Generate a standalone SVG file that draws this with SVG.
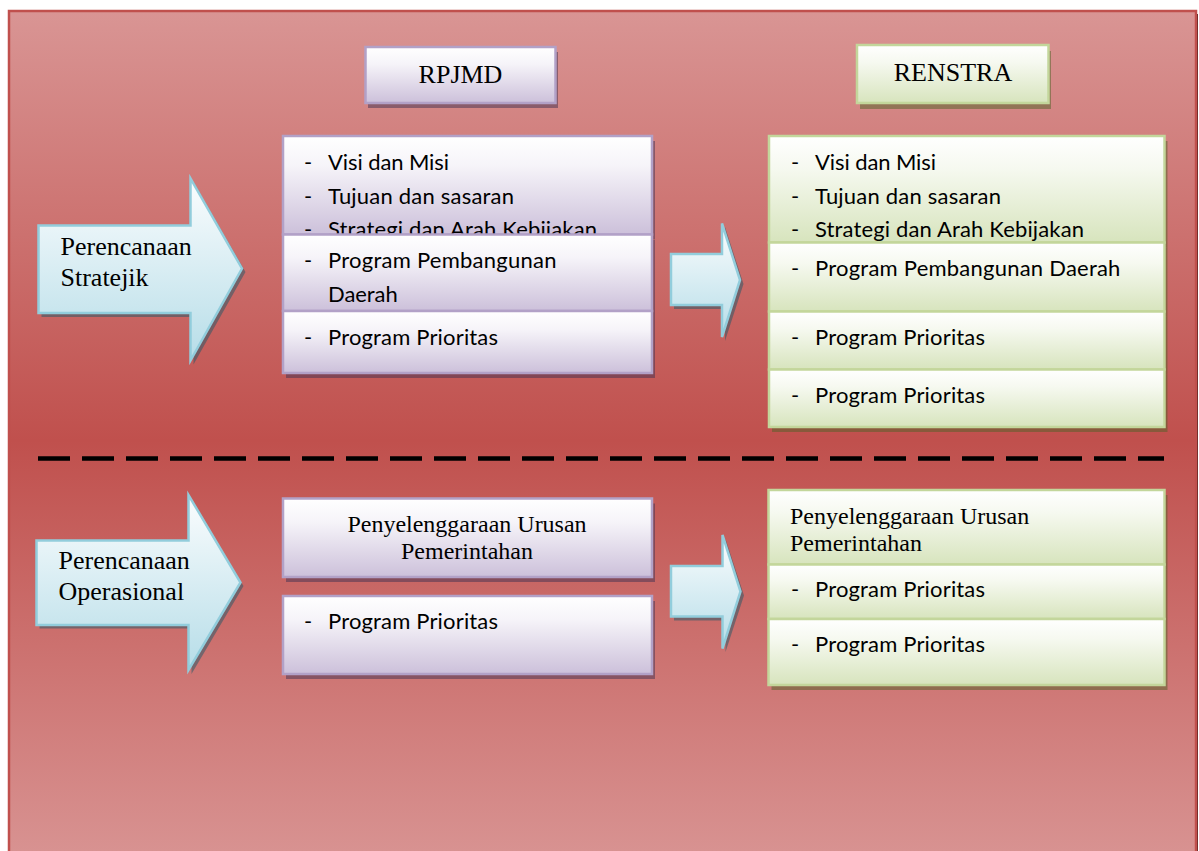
<svg xmlns="http://www.w3.org/2000/svg" width="1199" height="851" viewBox="0 0 1199 851">
<defs>
<linearGradient id="bg" gradientUnits="userSpaceOnUse" x1="0" y1="11" x2="0" y2="870">
<stop offset="0" stop-color="#d99594"/>
<stop offset="0.5" stop-color="#c0504d"/>
<stop offset="1" stop-color="#d99594"/>
</linearGradient>
<linearGradient id="gp" x1="0" y1="0" x2="0" y2="1">
<stop offset="0" stop-color="#ffffff"/>
<stop offset="0.3" stop-color="#f6f4f9"/>
<stop offset="1" stop-color="#ccc0da"/>
</linearGradient>
<linearGradient id="gg" x1="0" y1="0" x2="0" y2="1">
<stop offset="0" stop-color="#ffffff"/>
<stop offset="0.3" stop-color="#f6f9f0"/>
<stop offset="1" stop-color="#d7e4bd"/>
</linearGradient>
<linearGradient id="gb" x1="0" y1="0" x2="0" y2="1">
<stop offset="0" stop-color="#fbfdfe"/>
<stop offset="1" stop-color="#b6dde8"/>
</linearGradient>
<style>
.pbox{fill:url(#gp);stroke:#b2a1c7;stroke-width:2.5}
.gbox{fill:url(#gg);stroke:#c3d69b;stroke-width:2.5}
.psh{fill:#3f3151;opacity:0.5}
.gsh{fill:#4f6228;opacity:0.5}
.arr{fill:url(#gb);stroke:#92cddc;stroke-width:2.5;stroke-linejoin:miter}
.ash{fill:#205867;opacity:0.5}
.ser{font-family:"Liberation Serif","Times New Roman",serif;fill:#000}
.t26{font-size:26px}
.t24{font-size:24px}
.cal{font-family:Lato,"Open Sans",sans-serif;font-size:22px;fill:#000}
</style>
</defs>

<g id="background">
<rect x="12" y="14" width="1186" height="860" fill="#5a2422"/>
<rect x="9" y="11" width="1187" height="860" fill="url(#bg)" stroke="#c0504d" stroke-width="2.5"/>
</g>

<g id="rpjmd-title">
<rect class="psh" x="368" y="52" width="190" height="56"/>
<rect class="pbox" x="365.5" y="47" width="190" height="56"/>
<text class="ser t26" x="460.5" y="82.5" text-anchor="middle">RPJMD</text>
</g>

<g id="renstra-title">
<rect class="gsh" x="860" y="51" width="191" height="58"/>
<rect class="gbox" x="857" y="45" width="191.5" height="58"/>
<text class="ser t26" x="953" y="81" text-anchor="middle">RENSTRA</text>
</g>

<g id="arrow-stratejik">
<path class="ash" d="M41.5,229 H193.5 V182 L245.5,272 L193.5,364.5 V317 H41.5 Z"/>
<path class="arr" d="M38.5,225.5 H190.5 V178.5 L242,268.5 L190.5,360.5 V313 H38.5 Z"/>
<text class="ser t26" x="60.5" y="255">Perencanaan</text>
<text class="ser t26" x="60.5" y="286">Stratejik</text>
</g>

<g id="rpjmd-strategic">
<rect class="psh" x="286" y="141" width="369" height="98"/>
<rect class="pbox" x="283" y="136" width="369" height="98.5"/>
<text class="cal" x="304" y="170">-</text>
<text class="cal" x="328" y="170" textLength="121">Visi dan Misi</text>
<text class="cal" x="304" y="203.5">-</text>
<text class="cal" x="328" y="203.5" textLength="186">Tujuan dan sasaran</text>
<text class="cal" x="304" y="237">-</text>
<text class="cal" x="328" y="237" textLength="269">Strategi dan Arah Kebijakan</text>
<rect class="psh" x="286" y="239.5" width="369" height="76.5"/>
<rect class="pbox" x="283" y="234.5" width="369" height="76.5"/>
<text class="cal" x="304" y="268">-</text>
<text class="cal" x="328" y="268" textLength="228.5">Program Pembangunan</text>
<text class="cal" x="328" y="301.5" textLength="69.7">Daerah</text>
<rect class="psh" x="286" y="316" width="369" height="62"/>
<rect class="pbox" x="283" y="311" width="369" height="62"/>
<text class="cal" x="304" y="345">-</text>
<text class="cal" x="328" y="345" textLength="170">Program Prioritas</text>
</g>

<g id="renstra-strategic">
<rect class="gsh" x="772" y="141" width="395.5" height="106.5"/>
<rect class="gbox" x="769" y="136" width="395.5" height="106.5"/>
<text class="cal" x="791" y="170">-</text>
<text class="cal" x="815" y="170" textLength="121">Visi dan Misi</text>
<text class="cal" x="791" y="203.5">-</text>
<text class="cal" x="815" y="203.5" textLength="186">Tujuan dan sasaran</text>
<text class="cal" x="791" y="237">-</text>
<text class="cal" x="815" y="237" textLength="269">Strategi dan Arah Kebijakan</text>
<rect class="gsh" x="772" y="247.5" width="395.5" height="69"/>
<rect class="gbox" x="769" y="242.5" width="395.5" height="69"/>
<text class="cal" x="791" y="276">-</text>
<text class="cal" x="815" y="276" textLength="305.4">Program Pembangunan Daerah</text>
<rect class="gsh" x="772" y="316.5" width="395.5" height="58"/>
<rect class="gbox" x="769" y="311.5" width="395.5" height="58"/>
<text class="cal" x="791" y="345">-</text>
<text class="cal" x="815" y="345" textLength="170">Program Prioritas</text>
<rect class="gsh" x="772" y="374.5" width="395.5" height="57.5"/>
<rect class="gbox" x="769" y="369.5" width="395.5" height="57.5"/>
<text class="cal" x="791" y="403">-</text>
<text class="cal" x="815" y="403" textLength="170">Program Prioritas</text>
</g>

<g id="arrow-operasional">
<path class="ash" d="M39.5,544 H191.5 V499 L243.5,586 L191.5,674 V628.5 H39.5 Z"/>
<path class="arr" d="M36.5,540.5 H188.5 V495 L240.5,582.5 L188.5,670 V625 H36.5 Z"/>
<text class="ser t26" x="58.5" y="568.5">Perencanaan</text>
<text class="ser t26" x="58.5" y="600">Operasional</text>
</g>

<g id="rpjmd-operational">
<rect class="psh" x="286" y="503.5" width="369" height="78.5"/>
<rect class="pbox" x="283" y="498.5" width="369" height="78.5"/>
<text class="ser t24" x="467" y="531.5" text-anchor="middle">Penyelenggaraan Urusan</text>
<text class="ser t24" x="467" y="559" text-anchor="middle">Pemerintahan</text>
<rect class="psh" x="286" y="601" width="369" height="78"/>
<rect class="pbox" x="283" y="596" width="369" height="78"/>
<text class="cal" x="304" y="628.5">-</text>
<text class="cal" x="328" y="628.5" textLength="170">Program Prioritas</text>
</g>

<g id="renstra-operational">
<rect class="gsh" x="771.5" y="495" width="396" height="74.5"/>
<rect class="gbox" x="768.5" y="490" width="396" height="74.5"/>
<text class="ser t24" x="790" y="523.5">Penyelenggaraan Urusan</text>
<text class="ser t24" x="790" y="550.5">Pemerintahan</text>
<rect class="gsh" x="771.5" y="569.5" width="396" height="54.5"/>
<rect class="gbox" x="768.5" y="564.5" width="396" height="54.5"/>
<text class="cal" x="791" y="597">-</text>
<text class="cal" x="815" y="597" textLength="170">Program Prioritas</text>
<rect class="gsh" x="771.5" y="624" width="396" height="66"/>
<rect class="gbox" x="768.5" y="619" width="396" height="66"/>
<text class="cal" x="791" y="652">-</text>
<text class="cal" x="815" y="652" textLength="170">Program Prioritas</text>
</g>

<g id="connectors">
<path class="ash" d="M674,258 H725 V227 L743.5,284 L725,341 V309 H674 Z"/>
<path class="arr" d="M671,254 H722 V223.5 L740,280 L722,337 V305 H671 Z"/>
<path class="ash" d="M674,570 H725.5 V539 L744,595.5 L725.5,652 V620.5 H674 Z"/>
<path class="arr" d="M671,566 H722.5 V535 L740.5,591.5 L722.5,648.5 V616.5 H671 Z"/>
<line x1="38" y1="458.5" x2="1164" y2="458.5" stroke="#000" stroke-width="4.5" stroke-dasharray="32 12"/>
</g>
</svg>
